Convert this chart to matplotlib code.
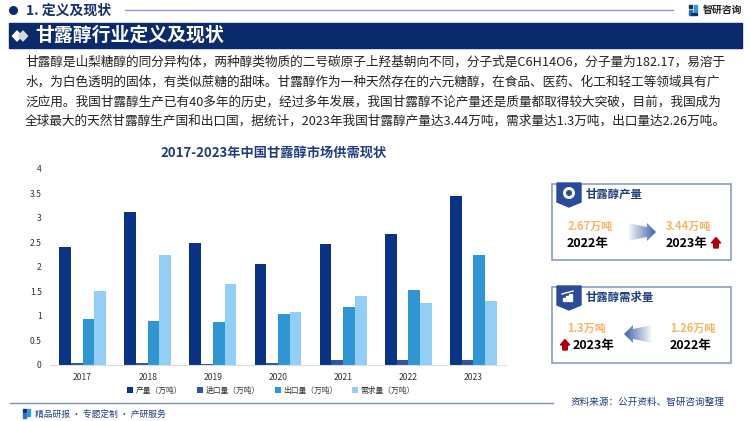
import numpy as np
import matplotlib
matplotlib.use('Agg')
import matplotlib.pyplot as plt
from matplotlib.patches import Polygon, Rectangle, Circle
from matplotlib.colors import to_rgb

plt.rcParams['font.family'] = ['Noto Sans CJK SC', 'DejaVu Sans']

# chart data
years = ['2017', '2018', '2019', '2020', '2021', '2022', '2023']
output = [2.40, 3.12, 2.48, 2.06, 2.46, 2.67, 3.44]
imports = [0.03, 0.04, 0.02, 0.04, 0.10, 0.10, 0.10]
exports = [0.93, 0.90, 0.86, 1.04, 1.17, 1.52, 2.25]
demand = [1.50, 2.25, 1.65, 1.07, 1.40, 1.26, 1.30]
series_names = ['产量（万吨）', '进口量（万吨）', '出口量（万吨）', '需求量（万吨）']
series_colors = ['#0B3383', '#2F55A4', '#3096D3', '#92CEF5']
y_ticks = [0, 0.5, 1, 1.5, 2, 2.5, 3, 3.5, 4]
y_labels = ['0', '0.5', '1', '1.5', '2', '2.5', '3', '3.5', '4']

paragraph = [
    '甘露醇是山梨糖醇的同分异构体，两种醇类物质的二号碳原子上羟基朝向不同，分子式是C6H14O6，分子量为182.17，易溶于',
    '水，为白色透明的固体，有类似蔗糖的甜味。甘露醇作为一种天然存在的六元糖醇，在食品、医药、化工和轻工等领域具有广',
    '泛应用。我国甘露醇生产已有40多年的历史，经过多年发展，我国甘露醇不论产量还是质量都取得较大突破，目前，我国成为',
    '全球最大的天然甘露醇生产国和出口国，据统计，2023年我国甘露醇产量达3.44万吨，需求量达1.3万吨，出口量达2.26万吨。',
]

NAVY = '#0B2A6B'
W, H = 750, 421
fig = plt.figure(figsize=(W / 100, H / 100), dpi=100)

# page layer in pixel coordinates
bg = fig.add_axes([0, 0, 1, 1])
bg.set_xlim(0, W)
bg.set_ylim(H, 0)
bg.axis('off')

# header
bg.add_patch(Circle((13.5, 10.5), 3.8, color=NAVY))
bg.text(26, 10.5, '1. 定义及现状', fontsize=10, fontweight='bold', color='#16306F', va='center')
bg.plot([125, 673], [10, 10], color='#8C9BC6', lw=1)
bg.add_patch(Rectangle((9, 23), 733, 25, color=NAVY))
for cx, col in [(17, 'white'), (23, '#D5D9E4')]:
    bg.add_patch(Polygon([(cx - 4.5, 36), (cx, 31), (cx + 4.5, 36), (cx, 41)], color=col))
bg.text(35, 35.5, '甘露醇行业定义及现状', fontsize=13.6, fontweight='bold', color='white', va='center')

# logo
bg.add_patch(Rectangle((688.5, 5), 3.5, 3, color='#16306F'))
bg.add_patch(Rectangle((688.5, 10), 3.5, 5, color='#2E6FC0'))
bg.add_patch(Rectangle((693.5, 5), 3, 7, color='#2E9BD8'))
bg.add_patch(Rectangle((691, 13), 5.5, 2, color='#16306F'))
bg.text(703, 10, '智研咨询', fontsize=7.1, fontweight='bold', color='#222222', va='center')

# paragraph
for y, line in zip([62, 82, 102, 121], paragraph):
    bg.text(25, y, line, fontsize=9.13, color='#222222', va='center')

bg.text(273.5, 153, '2017-2023年中国甘露醇市场供需现状', fontsize=9.5, fontweight='bold',
        color='#1F3C80', ha='center', va='center')


def gradient_arrow(x0, x1, yc, rgb, pointing_right):
    # block arrow that fades out towards its tail
    n = 80
    ramp = np.linspace(0.03, 1, n) if pointing_right else np.linspace(1, 0.03, n)
    img = np.ones((2, n, 4))
    img[..., :3] = rgb
    img[..., 3] = ramp
    im = bg.imshow(img, extent=(x0, x1, yc + 12, yc - 12), aspect='auto', zorder=3)
    if pointing_right:
        neck = x1 - 9
        pts = [(x0, yc - 9), (neck, yc - 5), (neck, yc - 9), (x1, yc), (neck, yc + 9),
               (neck, yc + 5), (x0, yc + 9)]
    else:
        neck = x0 + 9
        pts = [(x1, yc - 9), (neck, yc - 5), (neck, yc - 9), (x0, yc), (neck, yc + 9),
               (neck, yc + 5), (x1, yc + 9)]
    clip = Polygon(pts, transform=bg.transData, fc='none', ec='none')
    bg.add_patch(clip)
    im.set_clip_path(clip)


def red_up(cx, cy):
    bg.add_patch(Polygon([(cx - 4.7, cy), (cx, cy - 5.5), (cx + 4.7, cy), (cx + 2.3, cy),
                          (cx + 2.3, cy + 5), (cx - 2.3, cy + 5), (cx - 2.3, cy)],
                         color='#B00010', zorder=4))


def card(top, bottom, title):
    bg.add_patch(Rectangle((552, top), 179, bottom - top, fc='white', ec='#8A9CC6', lw=1.2))
    bg.add_patch(Polygon([(557, top - 1), (581, top - 1), (581, top + 18), (569, top + 23), (557, top + 18)],
                         color='#2A4A9A', zorder=3))
    bg.text(586, top + 10, title, fontsize=8.2, fontweight='bold', color='#1F3C80', va='center')


ORANGE = '#FBB464'
VAL_SIZE = 8.0
YEAR_SIZE = 9.0
card(184, 260, '甘露醇产量')
bg.add_patch(Circle((569, 193), 6, fc='white', ec='none', zorder=4))
bg.add_patch(Circle((569, 193), 3, fc='#2A4A9A', ec='none', zorder=5))
bg.text(590, 226, '2.67万吨', fontsize=VAL_SIZE, fontweight='bold', color=ORANGE, ha='center', va='center')
bg.text(588, 243, '2022年', fontsize=YEAR_SIZE, fontweight='bold', color='black', ha='center', va='center')
bg.text(689, 226, '3.44万吨', fontsize=VAL_SIZE, fontweight='bold', color=ORANGE, ha='center', va='center')
bg.text(687, 243, '2023年', fontsize=YEAR_SIZE, fontweight='bold', color='black', ha='center', va='center')
gradient_arrow(628, 656, 232, to_rgb('#3F62A8'), True)
red_up(716, 243)

card(287, 363, '甘露醇需求量')
for i, h in enumerate([3, 5, 7]):
    bg.add_patch(Rectangle((563 + i * 3.2, 301 - h), 2.2, h, color='white', zorder=4))
bg.plot([562, 573], [294, 291], color='white', lw=1, zorder=4)
bg.text(587, 328, '1.3万吨', fontsize=VAL_SIZE, fontweight='bold', color=ORANGE, ha='center', va='center')
bg.text(594, 346, '2023年', fontsize=YEAR_SIZE, fontweight='bold', color='black', ha='center', va='center')
bg.text(693, 328, '1.26万吨', fontsize=VAL_SIZE, fontweight='bold', color=ORANGE, ha='center', va='center')
bg.text(691, 346, '2022年', fontsize=YEAR_SIZE, fontweight='bold', color='black', ha='center', va='center')
gradient_arrow(624, 652, 334, to_rgb('#3F62A8'), False)
red_up(565, 345)

# footer
bg.plot([10, 553], [403, 403], color='#7F90BE', lw=1)
bg.add_patch(Rectangle((22.5, 409), 3, 3, color='#16306F'))
bg.add_patch(Rectangle((22.5, 413), 3, 5, color='#2E6FC0'))
bg.add_patch(Rectangle((27, 409), 3, 7, color='#2E9BD8'))
bg.text(35, 414, '精品研报 · 专题定制 · 产研服务', fontsize=6.3, color='#1F3C80', va='center')
bg.text(725, 402, '资料来源：公开资料、智研咨询整理', fontsize=6.9, color='#1F3C80', ha='right', va='center')

# bar chart, placed so the axis matches the picture
left, right, base, top = 50, 506, 364.5, 169
ax = fig.add_axes([left / W, 1 - base / H, (right - left) / W, (base - top) / H])
ax.patch.set_alpha(0)
x = np.arange(len(years))
bar_w = 0.18
for i, (vals, name, col) in enumerate(zip([output, imports, exports, demand], series_names, series_colors)):
    ax.bar(x + (i - 1.5) * bar_w, vals, bar_w, color=col, label=name)
ax.set_xlim(-0.5, 6.5)
ax.set_ylim(0, 4)
ax.set_xticks(x, years)
ax.set_yticks(y_ticks, y_labels)
ax.tick_params(length=0, labelsize=6.2, colors='#333333')
ax.tick_params(axis='x', pad=6)
ax.tick_params(axis='y', pad=6)
for s in ['top', 'left', 'right']:
    ax.spines[s].set_visible(False)
ax.spines['bottom'].set_color('#DDDDDD')
ax.legend(loc='upper center', bbox_to_anchor=(0.485, -0.095), ncol=4, frameon=False, fontsize=5.6,
          handlelength=0.75, handleheight=0.75, handletextpad=0.35, columnspacing=1.9,
          labelcolor='#333333', borderpad=0)

fig.savefig('out.png', dpi=100)
